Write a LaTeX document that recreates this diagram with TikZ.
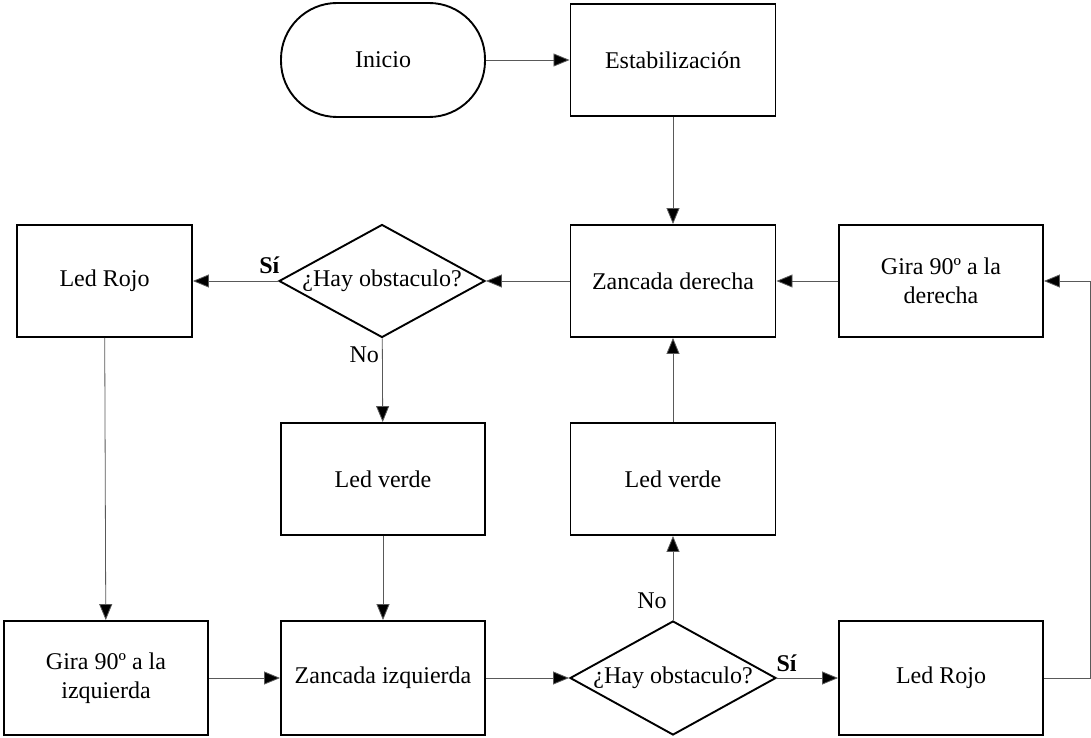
\documentclass[tikz,border=0pt]{standalone}
\usepackage{fontspec}
\setmainfont{Liberation Serif}
\usetikzlibrary{shapes.geometric,arrows.meta}

\begin{document}
\begin{tikzpicture}[x=1pt,y=-1pt,
  txt/.style={font=\fontsize{24}{28.5}\selectfont, align=center},
  box/.style={txt, draw, line width=1.9pt, rectangle, minimum width=205pt, minimum height=112pt},
  term/.style={box, rounded corners=56pt, minimum width=204pt, minimum height=114pt},
  ask/.style={txt, draw, line width=1.9pt, diamond, aspect=1.84, inner sep=0pt, minimum width=206pt, minimum height=113pt},
  flow/.style={draw=black!65, line width=0.8pt, -{Triangle[length=16pt,width=13pt,fill=black]}},
  lbl/.style={txt, inner sep=1pt}]
  \useasboundingbox (0,0) rectangle (1091,738);

	\node[term] (inicio) at (383,60) {Inicio};
	\node[box] (estab) at (673,60) {Estabilización};
	\node[box] (zder) at (673,281) {Zancada derecha};
	\node[box, minimum width=204pt] (giraD) at (941,281) {Gira 90º a la\\derecha};
	\node[ask] (obs1) at (382,281) {¿Hay obstaculo?};
	\node[box, minimum width=175pt] (rojo1) at (104.5,281) {Led Rojo};
	\node[box, minimum width=204pt] (verde1) at (383,479) {Led verde};
	\node[box] (verde2) at (673,479) {Led verde};
	\node[box, minimum width=204pt, minimum height=114pt] (giraI) at (106,678) {Gira 90º a la\\izquierda};
	\node[box, minimum width=204pt, minimum height=114pt] (zizq) at (383,678) {Zancada izquierda};
	\node[ask, minimum height=114pt] (obs2) at (673,678) {¿Hay obstaculo?};
	\node[box, minimum width=204pt, minimum height=114pt] (rojo2) at (941,678) {Led Rojo};

  \path (inicio) edge[flow] (estab);
  \path (estab) edge[flow] (zder);
  \path (zder) edge[flow] (obs1);
  \path (giraD) edge[flow] (zder);
  \path (obs1) edge[flow] node[lbl, pos=0.1, above=6pt] {\textbf{Sí}} (rojo1);
  \path (obs1) edge[flow] node[lbl, pos=0.2, left=2pt] {No} (verde1);
  \path (rojo1) edge[flow] (giraI);
  \path (giraI) edge[flow] (zizq);
  \path (verde1) edge[flow] (zizq);
  \path (zizq) edge[flow] (obs2);
  \path (obs2) edge[flow] node[lbl, pos=0.23, left=5pt] {No} (verde2);
  \path (verde2) edge[flow] (zder);
  \path (obs2) edge[flow] node[lbl, pos=0.16, above=5pt] {\textbf{Sí}} (rojo2);
  \draw[flow] (rojo2.east) -- ++(46,0) |- (giraD.east);

\end{tikzpicture}
\end{document}
